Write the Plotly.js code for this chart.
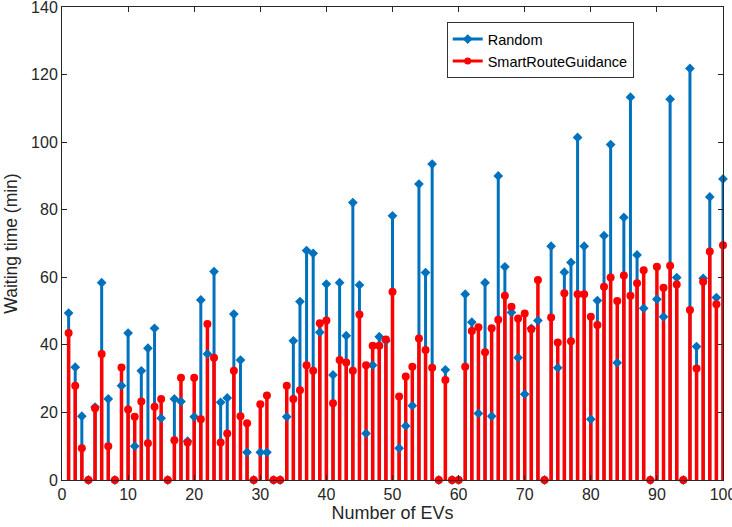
<!DOCTYPE html>
<html>
<head>
<meta charset="utf-8">
<script src="https://cdn.plot.ly/plotly-3.0.1.min.js"></script>
<style>html,body{margin:0;padding:0;background:#fff;}#chart{width:732px;height:527px;}</style>
</head>
<body>
<div id="chart"></div>
<script>
const evIndex = Array.from({length: 100}, (_, i) => i + 1);

const randomWait = [
  49.4, 33.4, 18.9, 0, 21.6, 58.4, 24, 0, 27.9, 43.5,
  10, 32.3, 39, 44.9, 18.3, 0, 24, 23.2, 11.5, 18.7,
  53.3, 37.3, 61.7, 23, 24.3, 49.1, 35.5, 8.2, 0, 8.2,
  8.2, 0, 0, 18.7, 41.2, 52.8, 67.9, 67.1, 43.7, 58,
  31.1, 58.4, 42.7, 82.1, 57.7, 13.8, 34, 42.4, 41.2, 78.2,
  9.4, 16, 22, 87.6, 61.4, 93.5, 0, 32.6, 0, 0,
  55, 46.7, 19.7, 58.4, 18.9, 90, 63.1, 49.6, 36.2, 25.4,
  44.9, 47.2, 0, 69.2, 33.2, 61.5, 64.4, 101.4, 69.2, 18,
  53.1, 72.3, 99.3, 34.7, 77.7, 113.3, 66.6, 50.8, 0, 53.5,
  48.3, 112.7, 59.9, 0, 121.8, 39.5, 59.7, 83.8, 54, 89.1
];

const smartWait = [
  43.5, 27.9, 9.4, 0, 21.2, 37.3, 10, 0, 33.3, 20.9,
  18.7, 23.2, 10.9, 21.7, 24, 0, 11.8, 30.3, 11.1, 30.3,
  18, 46.2, 36.2, 11.1, 13.8, 32.3, 18.9, 16.8, 0, 22.4,
  25, 0, 0, 27.9, 24, 26.6, 34, 32.3, 46.4, 47.2,
  22.7, 35.5, 34.8, 32.3, 49, 34, 39.7, 39.7, 41.6, 55.7,
  24.7, 30.6, 33.5, 41.9, 38.5, 33.2, 0, 29.6, 0, 0,
  33.5, 44.1, 45.2, 37.8, 44.9, 47.4, 54.5, 51.3, 47.8, 49.3,
  44.6, 59.2, 0, 48.1, 40.7, 55.3, 41.1, 55, 55, 48.3,
  45.9, 57.2, 59.9, 53, 60.5, 54.5, 58.2, 62.1, 0, 63.1,
  56.9, 63.4, 57.9, 0, 50.3, 33, 58.7, 67.6, 52, 69.5
];

const seriesNames = ['Random', 'SmartRouteGuidance'];
const blue = '#0072BD';
const red = '#FF0000';
const FONT = 'Liberation Sans, Arial, sans-serif';

function stems(vals, color, thick) {
  return {
    x: evIndex, y: vals, type: 'scatter', mode: 'markers',
    marker: {size: 1, opacity: 0, color: color},
    error_y: {type: 'data', symmetric: false, array: vals.map(() => 0), arrayminus: vals,
              thickness: thick, width: 0, color: color},
    showlegend: false, hoverinfo: 'skip', cliponaxis: false
  };
}
function heads(vals, color, symbol, size) {
  return {
    x: evIndex, y: vals, type: 'scatter', mode: 'markers',
    marker: {symbol: symbol, size: size, color: color, line: {width: 0}},
    showlegend: false, cliponaxis: false
  };
}
function legendEntry(name, color, symbol, size) {
  return {
    x: [null], y: [null], type: 'scatter', mode: 'lines+markers', name: name,
    line: {color: color, width: 3},
    marker: {symbol: symbol, size: size, color: color}
  };
}

const data = [
  stems(randomWait, blue, 3),
  stems(smartWait, red, 3.5),
  heads(randomWait, blue, 'diamond', 7.5),
  heads(smartWait, red, 'circle', 8),
  legendEntry(seriesNames[0], blue, 'diamond', 7.5),
  legendEntry(seriesNames[1], red, 'circle', 7)
];

const axisCommon = {
  showline: true, linecolor: '#262626', linewidth: 1, mirror: 'ticks',
  ticks: 'inside', ticklen: 5, tickcolor: '#262626', tickwidth: 1,
  showgrid: false, zeroline: false, ticklabeloverflow: 'allow',
  tickfont: {family: FONT, size: 16, color: '#262626'}
};

const layout = {
  width: 732, height: 527,
  margin: {l: 62, r: 9, t: 7, b: 47},
  paper_bgcolor: '#ffffff', plot_bgcolor: '#ffffff',
  xaxis: Object.assign({}, axisCommon, {
    range: [0, 100], dtick: 10, tick0: 0,
    title: {text: 'Number of EVs', standoff: 0,
            font: {family: FONT, size: 18, color: '#262626'}}
  }),
  yaxis: Object.assign({}, axisCommon, {
    range: [0, 140], dtick: 20, tick0: 0,
    title: {text: 'Waiting time (min)', standoff: 8,
            font: {family: FONT, size: 17.5, color: '#262626'}}
  }),
  legend: {
    x: 0.582, y: 0.968, xanchor: 'left', yanchor: 'top',
    bgcolor: '#ffffff', bordercolor: '#333333', borderwidth: 1,
    font: {family: FONT, size: 14.5, color: '#000000'},
    itemwidth: 30
  },
  showlegend: true
};

Plotly.newPlot('chart', data, layout, {displayModeBar: false, staticPlot: true});
</script>
</body>
</html>
